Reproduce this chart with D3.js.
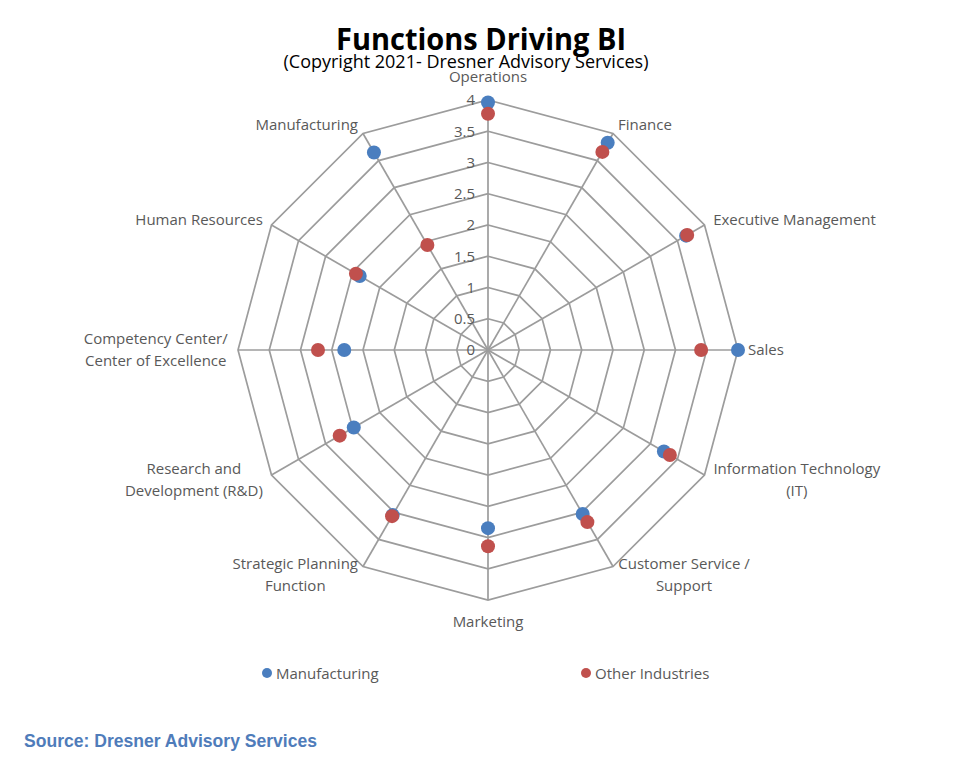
<!DOCTYPE html>
<html><head><meta charset="utf-8">
<script src="https://cdn.jsdelivr.net/npm/d3@7"></script>
<style>body{margin:0;background:#fff}svg{display:block}</style>
</head><body>
<svg id="chart" width="958" height="760"></svg>
<script>
const categories = ["Operations","Finance","Executive Management","Sales","Information Technology\n(IT)","Customer Service /\nSupport","Marketing","Strategic Planning\nFunction","Research and\nDevelopment (R&D)","Competency Center/\nCenter of Excellence","Human Resources","Manufacturing"];
const manufacturing = [3.96, 3.83, 3.66, 4.0, 3.25, 3.03, 2.85, 3.05, 2.48, 2.30, 2.37, 3.65];
const otherIndustries = [3.78, 3.66, 3.68, 3.41, 3.36, 3.18, 3.14, 3.07, 2.74, 2.72, 2.44, 1.94];
const tickValues = [0, 0.5, 1, 1.5, 2, 2.5, 3, 3.5, 4];
const tickLabels = ["0","0.5","1","1.5","2","2.5","3","3.5","4"];
const seriesNames = ["Manufacturing","Other Industries"];
const colors = ["#4A7EBF","#C0504D"];

const svg = d3.select("#chart");
const cx = 488, cy = 350, R = 250;
const r = d3.scaleLinear().domain([0,4]).range([0,R]);
const ang = d3.scalePoint().domain(d3.range(categories.length)).range([0, 2*Math.PI*(categories.length-1)/categories.length]);
const pt = (i, v) => [cx + r(v)*Math.sin(ang(i)), cy - r(v)*Math.cos(ang(i))];
const font = "'Open Sans', sans-serif";

// Title
svg.append("text").attr("x",481).attr("y",50).attr("text-anchor","middle")
  .attr("font-family",font).attr("font-weight","bold").attr("font-size",31)
  .attr("textLength",290).attr("lengthAdjust","spacingAndGlyphs").attr("fill","#000")
  .text("Functions Driving BI");
svg.append("text").attr("x",466).attr("y",68).attr("text-anchor","middle")
  .attr("font-family",font).attr("font-size",18)
  .attr("textLength",365).attr("lengthAdjust","spacingAndGlyphs").attr("fill","#000")
  .text("(Copyright 2021- Dresner Advisory Services)");

// Grid
const grid = svg.append("g").attr("stroke","#9c9c9c").attr("stroke-width",1.7).attr("fill","none");
tickValues.filter(v=>v>0).forEach(v=>{
  grid.append("path").attr("d", d3.line()(d3.range(categories.length).map(i=>pt(i,v))) + "Z");
});
d3.range(categories.length).forEach(i=>{
  const [x,y] = pt(i,4);
  grid.append("line").attr("x1",cx).attr("y1",cy).attr("x2",x).attr("y2",y);
});

// Tick labels
svg.append("g").selectAll("text").data(tickValues).join("text")
  .attr("x", cx-13).attr("y", d=>cy - r(d)).attr("dy","0.35em")
  .attr("text-anchor","end").attr("font-family",font).attr("font-size",15).attr("fill","#595959")
  .text((d,i)=>tickLabels[i]);

// Category labels
const lblG = svg.append("g").attr("font-family",font).attr("font-size",15).attr("fill","#595959");
categories.forEach((c,i)=>{
  const a = ang(i);
  const s = Math.sin(a), co = Math.cos(a);
  const px = cx + (R+10)*s, py = cy - (R+10)*co;
  const lines = c.split("\n");
  const lh = 22;
  const t = lblG.append("text").attr("text-anchor","middle");
  lines.forEach((l,k)=>t.append("tspan").attr("x",0).attr("y",k*lh).text(l));
  const w = t.node().getBBox().width;
  const h = (lines.length-1)*lh;
  let x, y0;
  if (s > 0.01) x = px + w/2; else if (s < -0.01) x = px - w/2; else x = px;
  if (co > 0.99) y0 = py - 8 - h;        // top
  else if (co < -0.99) y0 = py + 17;     // bottom
  else y0 = py - h/2 + 5;
  t.attr("transform",`translate(${x},${y0})`);
});

// Points
const series = [manufacturing, otherIndustries];
series.forEach((vals,si)=>{
  svg.append("g").selectAll("circle").data(vals).join("circle")
    .attr("cx",(d,i)=>pt(i,d)[0]).attr("cy",(d,i)=>pt(i,d)[1])
    .attr("r",7).attr("fill",colors[si]);
});

// Legend
const legX = [267, 586];
seriesNames.forEach((n,i)=>{
  svg.append("circle").attr("cx",legX[i]).attr("cy",673).attr("r",5).attr("fill",colors[i]);
  svg.append("text").attr("x",legX[i]+9).attr("y",679).attr("font-family",font).attr("font-size",15)
    .attr("fill","#595959").text(n);
});

// Source
svg.append("text").attr("x",24).attr("y",747).attr("font-family","'Liberation Sans', Arial, sans-serif")
  .attr("font-weight","bold").attr("font-size",17.5).attr("fill","#4F7CBA")
  .attr("textLength",293).attr("lengthAdjust","spacingAndGlyphs")
  .text("Source: Dresner Advisory Services");
</script>
</body></html>
